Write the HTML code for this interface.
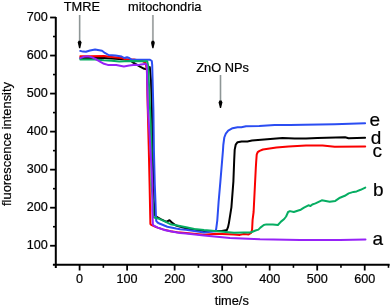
<!DOCTYPE html>
<html><head><meta charset="utf-8"><style>
html,body{margin:0;padding:0;background:#fff;}
svg{display:block;will-change:transform;}
.t{font-family:"Liberation Sans",sans-serif;font-size:12.8px;fill:#000;stroke:#000;stroke-width:0.2px;}
.t2{font-family:"Liberation Sans",sans-serif;font-size:12.9px;fill:#000;stroke:#000;stroke-width:0.2px;}
.l{font-family:"Liberation Sans",sans-serif;font-size:19px;fill:#000;stroke:#000;stroke-width:0.2px;}
.tk{font-family:"Liberation Sans",sans-serif;font-size:12.6px;fill:#000;stroke:#000;stroke-width:0.2px;}
</style></head><body>
<svg width="392" height="307" viewBox="0 0 392 307">
<rect width="392" height="307" fill="#fff"/>
<path d="M80.3,58.0 L95.0,58.0 L104.0,58.0 L111.7,58.4 L122.4,59.2 L130.0,60.0 L132.9,62.4 L140.0,66.7 L144.3,68.8 L146.8,69.2 L149.8,67.0 L151.0,80.0 L151.9,110.0 L152.6,150.0 L153.4,185.0 L153.7,200.0 L154.8,215.0 L155.8,216.4 L160.7,219.2 L166.4,221.9 L169.5,220.2 L172.6,223.2 L176.0,225.5 L186.0,228.4 L204.0,231.1 L221.9,230.9 L224.4,230.5 L226.8,230.1 L228.0,227.2 L228.9,223.1 L231.4,207.3 L233.4,181.3 L234.2,160.0 L234.7,149.6 L235.7,144.7 L237.6,142.2 L241.6,141.4 L247.4,141.5 L252.0,140.6 L258.0,140.0 L282.5,138.1 L294.7,138.4 L306.0,138.4 L317.4,138.0 L345.1,137.2 L348.6,138.2 L365.1,137.7" fill="none" stroke="#000000" stroke-width="2" stroke-linejoin="round" stroke-linecap="round"/><path d="M80.3,56.2 L90.0,56.2 L104.0,56.0 L111.7,56.9 L121.6,58.0 L125.4,59.2 L134.0,59.5 L143.0,61.3 L145.6,63.1 L146.9,70.0 L147.4,95.0 L148.8,150.0 L149.6,185.0 L150.2,215.0 L150.4,224.0 L151.2,224.8 L156.1,227.1 L163.0,229.4 L170.7,231.3 L177.3,232.3 L186.0,233.0 L204.0,234.7 L216.2,233.7 L234.0,234.4 L239.9,234.9 L243.8,234.0 L248.7,234.4 L251.1,233.0 L252.1,229.6 L252.6,219.8 L253.6,212.0 L255.8,168.0 L256.2,161.5 L256.7,154.7 L257.7,152.2 L259.6,150.9 L262.9,149.5 L276.4,147.6 L288.6,146.4 L306.0,145.4 L322.6,145.5 L334.7,146.7 L365.2,146.4" fill="none" stroke="#fa0000" stroke-width="2" stroke-linejoin="round" stroke-linecap="round"/><path d="M80.2,50.9 L83.0,51.6 L85.9,51.8 L90.0,50.5 L95.1,49.5 L102.0,50.7 L104.0,52.3 L108.6,55.0 L115.5,55.4 L121.6,56.5 L124.3,58.0 L127.0,57.3 L129.2,58.0 L131.5,59.6 L134.0,59.7 L150.0,59.7 L151.8,61.0 L152.2,65.0 L153.4,110.0 L153.9,150.0 L154.8,185.0 L155.4,200.0 L155.9,215.0 L156.2,220.8 L157.5,222.5 L160.0,223.8 L167.3,226.7 L176.0,228.5 L180.0,229.2 L186.0,229.8 L204.0,232.5 L215.4,231.3 L216.2,228.9 L217.3,220.3 L218.6,202.0 L220.4,181.3 L223.0,150.0 L223.3,145.0 L224.3,137.5 L225.8,133.6 L228.2,130.6 L232.6,128.2 L237.5,127.2 L241.4,127.2 L246.0,126.2 L259.3,126.0 L274.6,124.9 L290.0,124.9 L304.0,124.7 L334.7,124.2 L365.1,123.3" fill="none" stroke="#2b4df2" stroke-width="2" stroke-linejoin="round" stroke-linecap="round"/><path d="M80.3,59.5 L95.0,59.5 L104.0,60.3 L111.7,60.7 L119.3,61.5 L130.0,61.0 L147.2,61.3 L148.2,66.0 L150.1,110.0 L151.6,150.0 L151.5,185.0 L152.8,200.0 L153.4,215.5 L154.0,217.6 L158.1,218.4 L164.2,221.2 L170.4,224.2 L176.0,225.2 L186.2,227.2 L194.4,228.9 L204.0,230.1 L234.0,232.8 L243.8,232.5 L250.6,232.5 L255.5,230.5 L258.4,229.6 L260.4,227.6 L263.8,225.0 L266.4,224.4 L272.8,224.4 L277.9,225.0 L281.0,221.6 L284.2,219.0 L286.1,216.5 L288.1,212.0 L290.0,211.1 L293.8,212.0 L298.3,210.5 L300.8,209.7 L304.0,207.6 L308.4,205.3 L310.5,206.0 L312.3,204.5 L315.5,203.4 L321.8,200.3 L329.7,201.8 L335.3,200.9 L340.0,197.7 L344.8,195.8 L348.7,193.4 L353.5,191.9 L356.6,191.4 L360.6,189.8 L365.3,187.6" fill="none" stroke="#06ad62" stroke-width="2" stroke-linejoin="round" stroke-linecap="round"/><path d="M80.3,58.2 L83.6,56.8 L87.6,56.2 L91.5,57.1 L94.9,58.7 L100.0,61.6 L104.0,63.8 L107.8,64.9 L116.2,64.9 L123.9,66.4 L129.2,65.6 L133.2,65.0 L135.8,64.7 L138.4,65.1 L141.0,64.4 L144.7,63.9 L146.6,64.5 L146.9,70.0 L148.0,110.0 L150.5,150.0 L152.4,185.0 L152.3,210.0 L152.9,224.5 L153.4,225.3 L157.7,227.6 L165.3,230.2 L173.0,231.8 L180.0,232.9 L186.0,233.5 L204.0,235.4 L230.0,238.1 L260.0,239.3 L300.0,240.0 L340.0,240.0 L365.5,239.6" fill="none" stroke="#9622f7" stroke-width="2" stroke-linejoin="round" stroke-linecap="round"/>
<path d="M55.8,17 L55.8,268 M52.9,264.76 L389.6,264.76" stroke="#000" stroke-width="2" fill="none"/><line x1="50.1" y1="245.74" x2="56" y2="245.74" stroke="#000" stroke-width="1.8"/><text x="47.8" y="249.0" text-anchor="end" class="tk">100</text><line x1="53" y1="226.72" x2="56" y2="226.72" stroke="#000" stroke-width="1.6"/><line x1="50.1" y1="207.70" x2="56" y2="207.70" stroke="#000" stroke-width="1.8"/><text x="47.8" y="211.0" text-anchor="end" class="tk">200</text><line x1="53" y1="188.68" x2="56" y2="188.68" stroke="#000" stroke-width="1.6"/><line x1="50.1" y1="169.66" x2="56" y2="169.66" stroke="#000" stroke-width="1.8"/><text x="47.8" y="173.0" text-anchor="end" class="tk">300</text><line x1="53" y1="150.64" x2="56" y2="150.64" stroke="#000" stroke-width="1.6"/><line x1="50.1" y1="131.62" x2="56" y2="131.62" stroke="#000" stroke-width="1.8"/><text x="47.8" y="134.9" text-anchor="end" class="tk">400</text><line x1="53" y1="112.60" x2="56" y2="112.60" stroke="#000" stroke-width="1.6"/><line x1="50.1" y1="93.58" x2="56" y2="93.58" stroke="#000" stroke-width="1.8"/><text x="47.8" y="96.9" text-anchor="end" class="tk">500</text><line x1="53" y1="74.56" x2="56" y2="74.56" stroke="#000" stroke-width="1.6"/><line x1="50.1" y1="55.54" x2="56" y2="55.54" stroke="#000" stroke-width="1.8"/><text x="47.8" y="58.8" text-anchor="end" class="tk">600</text><line x1="53" y1="36.52" x2="56" y2="36.52" stroke="#000" stroke-width="1.6"/><line x1="50.1" y1="17.50" x2="56" y2="17.50" stroke="#000" stroke-width="1.8"/><text x="47.8" y="20.8" text-anchor="end" class="tk">700</text><line x1="79.60" y1="264" x2="79.60" y2="270.5" stroke="#000" stroke-width="1.8"/><text x="79.60" y="283" text-anchor="middle" class="tk">0</text><line x1="103.36" y1="264" x2="103.36" y2="267.8" stroke="#000" stroke-width="1.6"/><line x1="127.12" y1="264" x2="127.12" y2="270.5" stroke="#000" stroke-width="1.8"/><text x="127.12" y="283" text-anchor="middle" class="tk">100</text><line x1="150.88" y1="264" x2="150.88" y2="267.8" stroke="#000" stroke-width="1.6"/><line x1="174.64" y1="264" x2="174.64" y2="270.5" stroke="#000" stroke-width="1.8"/><text x="174.64" y="283" text-anchor="middle" class="tk">200</text><line x1="198.40" y1="264" x2="198.40" y2="267.8" stroke="#000" stroke-width="1.6"/><line x1="222.16" y1="264" x2="222.16" y2="270.5" stroke="#000" stroke-width="1.8"/><text x="222.16" y="283" text-anchor="middle" class="tk">300</text><line x1="245.92" y1="264" x2="245.92" y2="267.8" stroke="#000" stroke-width="1.6"/><line x1="269.68" y1="264" x2="269.68" y2="270.5" stroke="#000" stroke-width="1.8"/><text x="269.68" y="283" text-anchor="middle" class="tk">400</text><line x1="293.44" y1="264" x2="293.44" y2="267.8" stroke="#000" stroke-width="1.6"/><line x1="317.20" y1="264" x2="317.20" y2="270.5" stroke="#000" stroke-width="1.8"/><text x="317.20" y="283" text-anchor="middle" class="tk">500</text><line x1="340.96" y1="264" x2="340.96" y2="267.8" stroke="#000" stroke-width="1.6"/><line x1="364.72" y1="264" x2="364.72" y2="270.5" stroke="#000" stroke-width="1.8"/><text x="364.72" y="283" text-anchor="middle" class="tk">600</text><line x1="388.48" y1="264" x2="388.48" y2="267.8" stroke="#000" stroke-width="1.6"/>
<text x="63.7" y="11.4" class="t">TMRE</text><text x="128.1" y="11.2" class="t">mitochondria</text><text x="196.3" y="72.3" class="t">ZnO NPs</text><line x1="79.65" y1="15" x2="79.65" y2="43.2" stroke="#8e9696" stroke-width="1.6"/><path d="M78.55,40.70 L80.75,40.70 L81.55,42.60 L80.25,48.20 L79.05,48.20 L77.75,42.60 Z" fill="#000"/><line x1="152.9" y1="15" x2="152.9" y2="43.3" stroke="#a4a8a8" stroke-width="1.9"/><path d="M151.80,40.80 L154.00,40.80 L154.80,42.70 L153.50,48.30 L152.30,48.30 L151.00,42.70 Z" fill="#000"/><line x1="220.5" y1="75" x2="220.5" y2="103" stroke="#8e9696" stroke-width="1.6"/><path d="M219.40,100.50 L221.60,100.50 L222.40,102.40 L221.10,108.00 L219.90,108.00 L218.60,102.40 Z" fill="#000"/><text x="214.7" y="304.6" class="t">time/s</text><text transform="translate(11.1,144) rotate(-90)" text-anchor="middle" class="t2">fluorescence intensity</text><text x="369.5" y="126.2" class="l">e</text><text x="370.8" y="144.2" class="l">d</text><text x="372.6" y="156.9" class="l">c</text><text x="372.9" y="196.1" class="l">b</text><text x="372.6" y="245.3" class="l">a</text>
</svg>
</body></html>
